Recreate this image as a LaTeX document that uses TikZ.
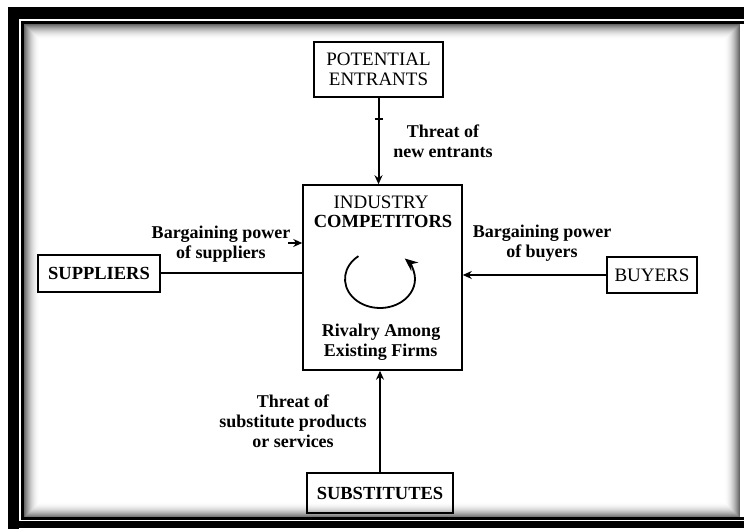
\documentclass[tikz,border=0pt]{standalone}
\usepackage{fontspec}
\setmainfont{Liberation Serif}
\usetikzlibrary{arrows.meta,calc}
\begin{document}
\begin{tikzpicture}[x=1pt,y=1pt,
  box/.style={draw=black,line width=1.5pt,inner sep=0pt,align=center,font=\fontsize{19}{20}\selectfont},
  boxbold/.style={box,font=\fontsize{18.5}{20}\selectfont\bfseries},
  lbl/.style={inner sep=0pt,align=center,font=\fontsize{18}{20}\selectfont\bfseries},
  conn/.style={line width=2pt},
  tip/.style={-{Stealth[length=9pt,width=8pt]}}]
\useasboundingbox (0,0) rectangle (744,529);
\fill[white] (0,0) rectangle (744,529);
% frame
\fill[black] (8,0) rectangle (19,522);
\fill[black] (8,510) rectangle (744,522);
\fill[black] (8,1) rectangle (744,8);
\foreach \i in {0,...,15}{
  \pgfmathsetmacro\c{60*(1-\i/16)^2}
  \draw[black!\c, line width=1.2pt] (24.5+\i,11.5+\i) rectangle (739.5-\i,504.5-\i);
}
\draw[line width=3pt] (22.5,10) rectangle (745,506.5);
% boxes
\node[box, minimum width=129, minimum height=55] (pe) at (378.5,459.5) {POTENTIAL\\ENTRANTS};
\node[box, minimum width=159, minimum height=185] (ic) at (382.5,251.5) {};
\node[boxbold, minimum width=122, minimum height=37] (sup) at (99,255.5) {SUPPLIERS};
\node[box, minimum width=90, minimum height=36] (buy) at (652,254) {BUYERS};
\node[boxbold, minimum width=146, minimum height=40] (sub) at (380,36) {SUBSTITUTES};
% industry texts
\node[anchor=base, inner sep=0pt, font=\fontsize{19}{20}\selectfont] (ind) at (381,320) {INDUSTRY};
\node[anchor=base, inner sep=0pt, font=\fontsize{18.5}{20}\selectfont\bfseries] (comp) at (383,301) {COMPETITORS};
\node[lbl, anchor=base] (riv1) at (381,192) {Rivalry Among};
\node[lbl, anchor=base] (riv2) at (380.5,172) {Existing Firms};
\draw[line width=1.8pt, -{Stealth[length=13pt,width=11pt]}] (380,250) ++(128:35 and 29) arc[start angle=128, end angle=405, x radius=35, y radius=29];
% connectors
\draw[conn, tip] (pe.south) -- (pe.south |- ic.north);
\draw[conn] ($(pe.south)+(-4,-21)$) -- ++(8,0);
\draw[conn] (sup.east) -- (sup.east -| ic.west);
\draw[conn, tip] ($(ic.west)+(-14,34.5)$) -- ($(ic.west)+(0,34.5)$);
\draw[conn, tip] (buy.west) -- (buy.west -| ic.east);
\draw[conn, tip] (sub.north) -- (sub.north |- ic.south);
% labels
\node[lbl] (l1) at (443,388.1) {Threat of\\new entrants};
\node[lbl] (l2) at (221,285.3) {Bargaining power\\of suppliers};
\node[lbl] (l3) at (542,285.3) {Bargaining power\\of buyers};
\node[lbl] (l4) at (293,108.1) {Threat of\\substitute products\\or services};
\end{tikzpicture}
\end{document}
